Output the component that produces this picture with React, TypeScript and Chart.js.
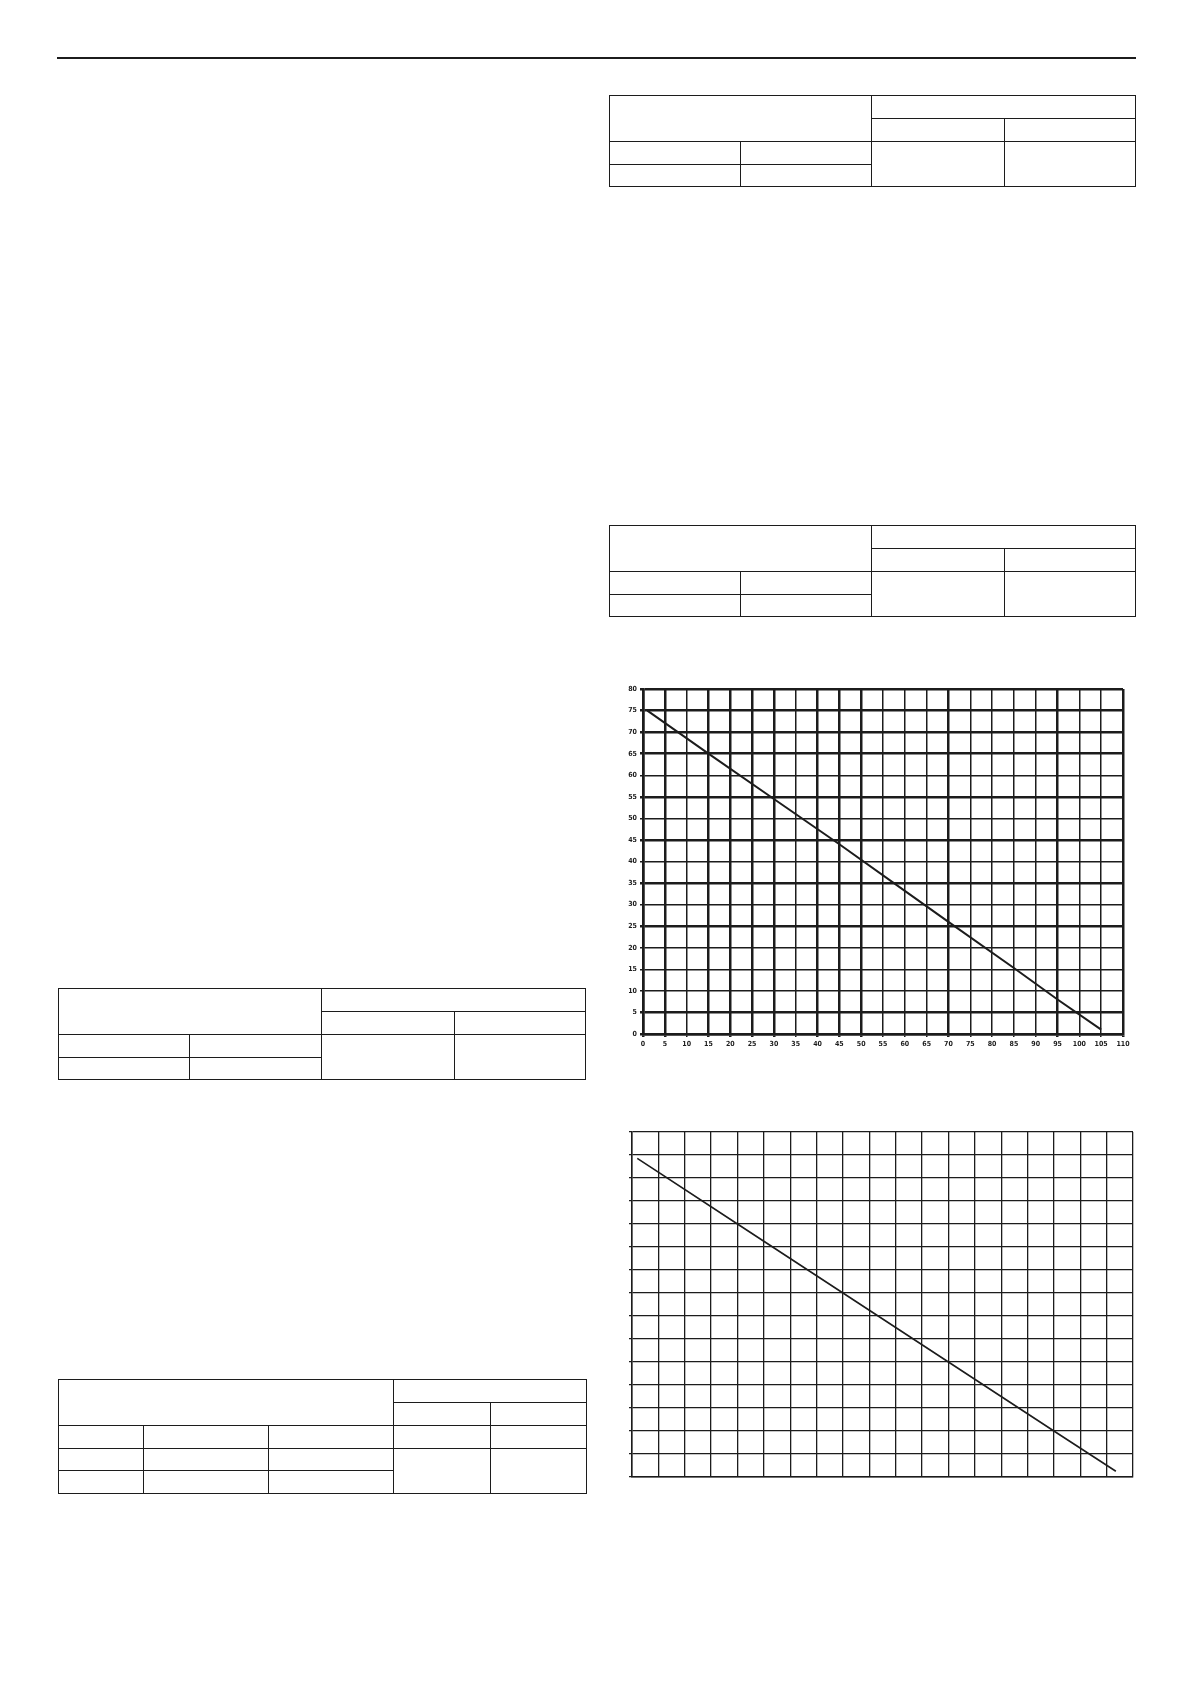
import { useEffect, useRef } from 'react';
import { Chart, registerables, type ChartConfiguration } from 'chart.js';

Chart.register(...registerables);

// chart 1 (labelled grid, 0..110 x 0..80)
const line1X = [1, 15, 30, 45, 60, 70, 85, 95, 105];
const line1Y = [75, 65, 54.5, 44, 33.2, 26, 15.3, 8, 1];
const x1Max = 110;
const y1Max = 80;
const step1 = 5;

// chart 2 (unlabelled grid, 19 x 15 cells)
const line2X = [0.2, 4, 8, 12, 16, 18.35];
const line2Y = [13.85, 11, 8, 5, 2, 0.25];
const x2Max = 19;
const y2Max = 15;

// heavier grid lines in the scanned chart 1
const thickX = [0, 5, 15, 20, 25, 30, 40, 45, 50, 70, 95, 110];
const thickY = [0, 5, 25, 35, 45, 55, 65, 70, 75, 80];

const INK = '#1c1c1c';

function toPoints(xs: number[], ys: number[]) {
  return xs.map((x, i) => ({ x, y: ys[i] }));
}

interface GridProps {
  left: number;
  top: number;
  width: number;
  height: number;
  config: ChartConfiguration;
}

function GridChart({ left, top, width, height, config }: GridProps) {
  const canvasRef = useRef<HTMLCanvasElement>(null);
  const chartRef = useRef<Chart | null>(null);

  useEffect(() => {
    if (!canvasRef.current) return;
    if (chartRef.current) chartRef.current.destroy();
    chartRef.current = new Chart(canvasRef.current, config);
    return () => {
      if (chartRef.current) {
        chartRef.current.destroy();
        chartRef.current = null;
      }
    };
  }, [config]);

  return (
    <div style={{ position: 'absolute', left, top, width, height }}>
      <canvas ref={canvasRef} />
    </div>
  );
}

const tickFont = { family: "'DejaVu Sans Condensed', 'DejaVu Sans', sans-serif", size: 7, weight: 'bold' as const };

const config1: ChartConfiguration = {
  type: 'scatter',
  data: {
    datasets: [
      {
        data: toPoints(line1X, line1Y),
        showLine: true,
        borderColor: INK,
        borderWidth: 2,
        pointRadius: 0,
        tension: 0,
      },
    ],
  },
  options: {
    responsive: true,
    maintainAspectRatio: false,
    animation: false,
    layout: { padding: { top: 10, right: 10, left: 0, bottom: 0 } },
    plugins: { legend: { display: false }, tooltip: { enabled: false } },
    scales: {
      x: {
        type: 'linear',
        min: 0,
        max: x1Max,
        afterFit: (scale: any) => {
          scale.height = 20;
        },
        ticks: { stepSize: step1, autoSkip: false, maxRotation: 0, color: INK, font: tickFont, padding: 3 },
        grid: {
          color: INK,
          lineWidth: (ctx: any) => (thickX.includes(ctx.tick?.value) ? 2.5 : 1.5),
          tickLength: 3,
        },
        border: { color: INK, width: 2.5 },
      },
      y: {
        type: 'linear',
        min: 0,
        max: y1Max,
        afterFit: (scale: any) => {
          scale.width = 40;
        },
        ticks: { stepSize: step1, autoSkip: false, color: INK, font: tickFont, padding: 3 },
        grid: {
          color: INK,
          lineWidth: (ctx: any) => (thickY.includes(ctx.tick?.value) ? 2.5 : 1.5),
          tickLength: 3,
        },
        border: { color: INK, width: 2.5 },
      },
    },
  },
};

const config2: ChartConfiguration = {
  type: 'scatter',
  data: {
    datasets: [
      {
        data: toPoints(line2X, line2Y),
        showLine: true,
        borderColor: INK,
        borderWidth: 1.6,
        pointRadius: 0,
        tension: 0,
      },
    ],
  },
  options: {
    responsive: true,
    maintainAspectRatio: false,
    animation: false,
    layout: { padding: { top: 5, right: 5, left: 0, bottom: 5 } },
    plugins: { legend: { display: false }, tooltip: { enabled: false } },
    scales: {
      x: {
        type: 'linear',
        min: 0,
        max: x2Max,
        afterFit: (scale: any) => {
          scale.height = 0;
        },
        ticks: { stepSize: 1, display: false },
        grid: { color: INK, lineWidth: 1.3, drawTicks: false },
        border: { color: INK, width: 1.5 },
      },
      y: {
        type: 'linear',
        min: 0,
        max: y2Max,
        afterFit: (scale: any) => {
          scale.width = 10;
        },
        ticks: { stepSize: 1, display: false },
        grid: { color: INK, lineWidth: 1.3, tickLength: 3 },
        border: { color: INK, width: 1.5 },
      },
    },
  },
};

// empty ruled tables: [col0, col1, row0, row1] index spans
type Cell = [number, number, number, number];

const fourColCells: Cell[] = [
  [0, 2, 0, 2],
  [2, 4, 0, 1],
  [2, 3, 1, 2],
  [3, 4, 1, 2],
  [0, 1, 2, 3],
  [1, 2, 2, 3],
  [0, 1, 3, 4],
  [1, 2, 3, 4],
  [2, 3, 2, 4],
  [3, 4, 2, 4],
];

const fiveColCells: Cell[] = [
  [0, 3, 0, 2],
  [3, 5, 0, 1],
  [3, 4, 1, 2],
  [4, 5, 1, 2],
  [0, 1, 2, 3],
  [1, 2, 2, 3],
  [2, 3, 2, 3],
  [3, 4, 2, 3],
  [4, 5, 2, 3],
  [0, 1, 3, 4],
  [1, 2, 3, 4],
  [2, 3, 3, 4],
  [0, 1, 4, 5],
  [1, 2, 4, 5],
  [2, 3, 4, 5],
  [3, 4, 3, 5],
  [4, 5, 3, 5],
];

function RuledTable({ cols, rows, cells }: { cols: number[]; rows: number[]; cells: Cell[] }) {
  const bw = 1.3;
  return (
    <>
      {cells.map(([c0, c1, r0, r1], i) => (
        <div
          key={i}
          style={{
            position: 'absolute',
            left: cols[c0],
            top: rows[r0],
            width: cols[c1] - cols[c0] + bw,
            height: rows[r1] - rows[r0] + bw,
            border: `${bw}px solid ${INK}`,
            boxSizing: 'border-box',
          }}
        />
      ))}
    </>
  );
}

export default function App() {
  const rightCols = [609, 740, 871, 1004, 1135];
  const leftCols = [58, 189, 321, 454, 585];
  return (
    <div
      style={{
        position: 'absolute',
        left: 0,
        top: 0,
        width: 1191,
        height: 1684,
        background: '#fff',
        overflow: 'hidden',
      }}
    >
      <div style={{ position: 'absolute', left: 57, top: 57, width: 1079, height: 1.5, background: INK }} />
      <RuledTable cols={rightCols} rows={[95, 118, 141, 164, 186]} cells={fourColCells} />
      <RuledTable cols={rightCols} rows={[525, 548, 571, 594, 616]} cells={fourColCells} />
      <RuledTable cols={leftCols} rows={[988, 1011, 1034, 1057, 1079]} cells={fourColCells} />
      <RuledTable cols={[58, 143, 268, 393, 490, 586]} rows={[1379, 1402, 1425, 1448, 1470, 1493]} cells={fiveColCells} />
      <GridChart left={603} top={679} width={530} height={375} config={config1} />
      <GridChart left={622} top={1127} width={516} height={355} config={config2} />
    </div>
  );
}
